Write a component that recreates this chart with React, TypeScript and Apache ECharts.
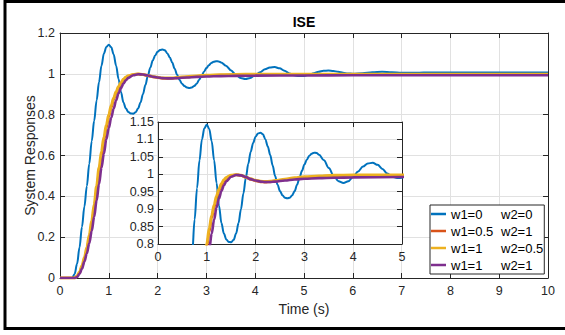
import React, { useEffect, useRef } from "react";
import * as echarts from "echarts";

const seriesNames = ["w1=0 w2=0", "w1=0.5 w2=1", "w1=1 w2=0.5", "w1=1 w2=1"];
const w1Labels = ["w1=0", "w1=0.5", "w1=1", "w1=1"];
const w2Labels = ["w2=0", "w2=1", "w2=0.5", "w2=1"];
const colors = ["#0072BD", "#D95319", "#EDB120", "#7E2F8E"];

const xTicksMain = [0, 1, 2, 3, 4, 5, 6, 7, 8, 9, 10];

const tBlue = [
  0, 0.25, 0.3, 0.35, 0.4, 0.45, 0.5, 0.55, 0.6, 0.65, 0.7, 0.75, 0.8, 0.85, 0.9, 0.95,
  1.0, 1.05, 1.1, 1.15, 1.2, 1.25, 1.3, 1.35, 1.4, 1.45, 1.5, 1.55, 1.6, 1.65, 1.7, 1.75,
  1.8, 1.85, 1.9, 1.95, 2.0, 2.05, 2.1, 2.15, 2.2, 2.25, 2.3, 2.35, 2.4, 2.45, 2.5, 2.55,
  2.6, 2.65, 2.7, 2.75, 2.8, 2.85, 2.9, 2.95, 3.0, 3.05, 3.1, 3.15, 3.2, 3.25, 3.3, 3.4,
  3.5, 3.6, 3.7, 3.8, 3.9, 4.0, 4.1, 4.2, 4.3, 4.4, 4.5, 4.6, 4.7, 4.8, 4.9, 5.0,
  5.1, 5.2, 5.3, 5.4, 5.5, 5.6, 5.7, 5.8, 5.9, 6.0, 6.2, 6.4, 6.6, 6.8, 7.0, 7.3,
  7.6, 8.0, 8.5, 9.0, 9.5, 10,
];
const yBlue = [
  0, 0, 0.02, 0.07, 0.15, 0.25, 0.35, 0.45, 0.56, 0.67, 0.77, 0.87, 0.96, 1.04, 1.1, 1.132,
  1.143, 1.13, 1.095, 1.04, 0.975, 0.91, 0.86, 0.83, 0.813, 0.806, 0.805, 0.812, 0.83, 0.86, 0.9, 0.945,
  0.99, 1.03, 1.065, 1.09, 1.108, 1.117, 1.119, 1.115, 1.1, 1.08, 1.055, 1.025, 0.995, 0.97, 0.952, 0.94,
  0.933, 0.931, 0.933, 0.94, 0.952, 0.97, 0.99, 1.01, 1.028, 1.042, 1.053, 1.059, 1.062, 1.061, 1.056, 1.04,
  1.018, 0.996, 0.98, 0.975, 0.98, 0.993, 1.008, 1.022, 1.031, 1.033, 1.027, 1.015, 1.002, 0.993, 0.989, 0.99,
  0.995, 1.003, 1.01, 1.015, 1.016, 1.014, 1.01, 1.005, 1.002, 1.001, 1.003, 1.008, 1.01, 1.008, 1.005, 1.005,
  1.007, 1.006, 1.006, 1.006, 1.006, 1.006,
];

const tSmooth = [
  0, 0.3, 0.35, 0.4, 0.45, 0.5, 0.55, 0.6, 0.65, 0.7, 0.75, 0.8, 0.85, 0.9, 0.95, 1.0,
  1.05, 1.1, 1.15, 1.2, 1.25, 1.3, 1.35, 1.4, 1.5, 1.6, 1.7, 1.8, 1.9, 2.0, 2.1, 2.2,
  2.3, 2.4, 2.6, 2.8, 3.0, 3.3, 3.6, 4.0, 5.0, 6.0, 7.0, 8.0, 9.0, 10,
];
const yOrange = [
  0, 0, 0.008, 0.025, 0.055, 0.09, 0.14, 0.2, 0.265, 0.34, 0.43, 0.52, 0.6, 0.675, 0.735, 0.79,
  0.835, 0.875, 0.905, 0.932, 0.953, 0.968, 0.98, 0.988, 0.996, 0.999, 0.997, 0.991, 0.985, 0.981, 0.978, 0.977,
  0.978, 0.98, 0.984, 0.988, 0.991, 0.994, 0.996, 0.997, 0.997, 0.997, 0.997, 0.997, 0.997, 0.997,
];
const yYellow = [
  0, 0, 0.01, 0.03, 0.06, 0.1, 0.15, 0.21, 0.28, 0.36, 0.45, 0.54, 0.62, 0.69, 0.75, 0.8,
  0.845, 0.882, 0.912, 0.938, 0.958, 0.973, 0.984, 0.991, 0.997, 0.999, 0.997, 0.992, 0.987, 0.983, 0.98, 0.979,
  0.98, 0.982, 0.986, 0.99, 0.993, 0.995, 0.997, 0.998, 0.998, 0.998, 0.998, 0.998, 0.998, 0.998,
];
const yPurple = [
  0, 0, 0.005, 0.02, 0.045, 0.08, 0.12, 0.17, 0.23, 0.3, 0.38, 0.46, 0.54, 0.61, 0.68, 0.735,
  0.785, 0.83, 0.87, 0.905, 0.93, 0.952, 0.968, 0.98, 0.993, 0.998, 0.997, 0.992, 0.986, 0.982, 0.979, 0.978,
  0.978, 0.979, 0.982, 0.985, 0.987, 0.989, 0.99, 0.991, 0.992, 0.993, 0.993, 0.993, 0.993, 0.993,
];

const seriesT = [tBlue, tSmooth, tSmooth, tSmooth];
const seriesY = [yBlue, yOrange, yYellow, yPurple];
const lineWidths = [2, 2.5, 3, 2.6];

const FONT = "'Liberation Sans', Arial, Helvetica, sans-serif";
const AX = "#262626";
const GRIDC = "#e1e1e1";

function fmt(v: number) {
  return String(+(+v).toFixed(2));
}

export default function App() {
  const ref = useRef<HTMLDivElement>(null);
  useEffect(() => {
    if (!ref.current) return;
    const chart = echarts.init(ref.current, null, { renderer: "svg" });

    const baseAxis = (extra: any) => ({
      type: "value",
      axisLine: { show: true, onZero: false, lineStyle: { color: AX, width: 1 } },
      axisTick: { show: true, inside: true, length: 5, lineStyle: { color: AX } },
      axisLabel: { show: true, color: AX, fontSize: 12.5, fontFamily: FONT, formatter: fmt },
      splitLine: { show: false },
      ...extra,
    });

    const series: any[] = [];
    for (let i = 0; i < 4; i++) {
      const data = seriesT[i].map((t, k) => [t, seriesY[i][k]]);
      series.push({
        type: "line",
        name: seriesNames[i],
        xAxisIndex: 0,
        yAxisIndex: 0,
        data,
        showSymbol: false,
        symbol: "none",
        smooth: 0.35,
        smoothMonotone: "x",
        lineStyle: { color: colors[i], width: lineWidths[i] },
        itemStyle: { color: colors[i] },
        z: 2 + i * 0.1,
      });
    }
    for (let i = 0; i < 4; i++) {
      const data = seriesT[i].map((t, k) => [t, seriesY[i][k]]);
      series.push({
        type: "line",
        name: seriesNames[i],
        xAxisIndex: 2,
        yAxisIndex: 2,
        data,
        showSymbol: false,
        symbol: "none",
        smooth: 0.35,
        smoothMonotone: "x",
        clip: true,
        lineStyle: { color: colors[i], width: lineWidths[i] },
        itemStyle: { color: colors[i] },
        z: 5 + i * 0.1,
      });
    }

    chart.setOption({
      animation: false,
      backgroundColor: "#fff",
      title: {
        text: "ISE",
        left: 304,
        top: 15,
        textAlign: "center",
        padding: 0,
        textStyle: { fontSize: 14, fontWeight: "bold", color: "#000", fontFamily: FONT },
      },
      grid: [
        { left: 60, top: 33, width: 488, height: 245, show: false, containLabel: false },
        { left: 158, top: 122, width: 244, height: 122, show: true, backgroundColor: "#fff", borderWidth: 0, z: 3, containLabel: false },
      ],
      xAxis: [
        baseAxis({
          gridIndex: 0, position: "bottom", min: xTicksMain[0], max: xTicksMain[xTicksMain.length - 1], interval: 1,
          splitLine: { show: true, lineStyle: { color: GRIDC, width: 1 } },
          axisLabel: { color: AX, fontSize: 12.5, fontFamily: FONT, margin: 6, formatter: fmt },
          name: "Time (s)", nameLocation: "middle", nameGap: 24, nameMoveOverlap: false,
          nameTextStyle: { fontSize: 14, color: AX, fontFamily: FONT },
        }),
        baseAxis({ gridIndex: 0, position: "top", min: 0, max: 10, interval: 1, axisLabel: { show: false } }),
        baseAxis({
          gridIndex: 1, position: "bottom", min: 0, max: 5, interval: 1, z: 4,
          splitLine: { show: true, lineStyle: { color: GRIDC, width: 1 } },
          axisLabel: { color: AX, fontSize: 12.5, fontFamily: FONT, margin: 6, formatter: fmt },
        }),
        baseAxis({ gridIndex: 1, position: "top", min: 0, max: 5, interval: 1, z: 4, axisLabel: { show: false } }),
      ],
      yAxis: [
        baseAxis({
          gridIndex: 0, position: "left", min: 0, max: 1.2, interval: 0.2,
          splitLine: { show: true, lineStyle: { color: GRIDC, width: 1 } },
          axisLabel: { color: AX, fontSize: 12.5, fontFamily: FONT, margin: 5, formatter: fmt },
          name: "System Responses", nameLocation: "middle", nameGap: 23, nameMoveOverlap: false,
          nameTextStyle: { fontSize: 14, color: AX, fontFamily: FONT },
        }),
        baseAxis({ gridIndex: 0, position: "right", min: 0, max: 1.2, interval: 0.2, axisLabel: { show: false } }),
        baseAxis({
          gridIndex: 1, position: "left", min: 0.8, max: 1.15, interval: 0.05, z: 4,
          splitLine: { show: true, lineStyle: { color: GRIDC, width: 1 } },
          axisLabel: { color: AX, fontSize: 12.5, fontFamily: FONT, margin: 4, formatter: fmt },
        }),
        baseAxis({ gridIndex: 1, position: "right", min: 0.8, max: 1.15, interval: 0.05, z: 4, axisLabel: { show: false } }),
      ],
      legend: {
        orient: "vertical",
        left: 430,
        top: 205,
        icon: "rect",
        itemWidth: 15,
        itemHeight: 2.5,
        itemGap: 3,
        padding: [2, 1, 2, 1],
        borderColor: AX,
        borderWidth: 1,
        borderRadius: 0,
        backgroundColor: "#fff",
        z: 10,
        data: seriesNames,
        formatter: (name: string) => {
          const i = seriesNames.indexOf(name);
          return `{a|${w1Labels[i]}}{b|${w2Labels[i]}}`;
        },
        textStyle: {
          fontSize: 13,
          color: "#000",
          fontFamily: FONT,
          lineHeight: 14,
          rich: {
            a: { width: 50, fontSize: 13, fontFamily: FONT, color: "#000", lineHeight: 14 },
            b: { fontSize: 13, fontFamily: FONT, color: "#000", lineHeight: 14 },
          },
        },
      },
      graphic: [
        {
          type: "rect",
          silent: true,
          z: 100,
          shape: { x: 5, y: 1.5, width: 600, height: 327 },
          style: { fill: "none", stroke: "#000", lineWidth: 3 },
        },
      ],
      series,
    });
    return () => chart.dispose();
  }, []);
  return (
    <div
      ref={ref}
      style={{ position: "fixed", left: 0, top: 0, width: 565, height: 335 }}
    />
  );
}
